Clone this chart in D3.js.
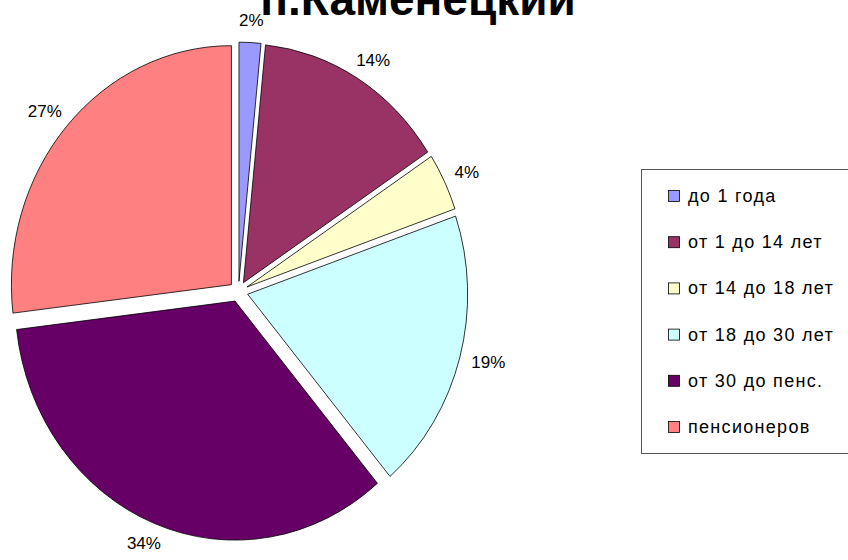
<!DOCTYPE html>
<html><head><meta charset="utf-8">
<script src="https://cdn.jsdelivr.net/npm/d3@7"></script>
<style>body{margin:0;background:#fff}svg{display:block}text{font-family:"Liberation Sans",Arial,sans-serif}</style>
</head><body>
<svg id="c" width="848" height="560"></svg>
<script>
const title = "п.Каменецкий";
const categories = ["до 1 года","от 1 до 14 лет","от 14 до 18 лет","от 18 до 30 лет","от 30 до пенс.","пенсионеров"];
const values = [1.6, 14.2, 3.9, 19.1, 34.3, 26.9];
const colors = ["#9999FF","#993366","#FFFFCC","#CCFFFF","#660066","#FF8080"];

const svg = d3.select("#c");
const W = 848, H = 560;
svg.append("rect").attr("width", W).attr("height", H).attr("fill", "#fff");

const cx = 238.5, cy = 291.5, rx = 220, ry = 239, sy = ry / rx, explode = 9.5, labelR = 242;
const total = d3.sum(values);
const data = categories.map((c, i) => ({cat: c, value: values[i], color: colors[i]}));
const pie = d3.pie().sort(null).value(d => d.value).startAngle(0).endAngle(2 * Math.PI);
const arc = d3.arc().innerRadius(0).outerRadius(rx);
const arcs = pie(data);

const g = svg.append("g").attr("transform", `translate(${cx},${cy})`);
g.selectAll("path").data(arcs).join("path")
  .attr("transform", d => {
    const m = (d.startAngle + d.endAngle) / 2;
    return `translate(${Math.sin(m) * explode},${-Math.cos(m) * explode * sy}) scale(1,${sy})`;
  })
  .attr("d", arc)
  .attr("fill", d => d.data.color)
  .attr("stroke", "#000")
  .attr("stroke-width", 0.8)
  .attr("vector-effect", "non-scaling-stroke");

const fmt = d3.format(".0%");
const labels = g.selectAll("text.lbl").data(arcs).join("text")
  .attr("class", "lbl")
  .attr("font-size", 17)
  .attr("text-anchor", "middle")
  .attr("dominant-baseline", "central")
  .attr("fill", "#000")
  .text(d => fmt(d.data.value / total));
labels.each(function(d) {
  const m = (d.startAngle + d.endAngle) / 2;
  const hw = this.getComputedTextLength() / 2, hh = 8;
  const x = Math.sin(m) * (labelR + hw);
  const y = -Math.cos(m) * labelR * sy - Math.cos(m) * hh;
  d3.select(this).attr("x", x).attr("y", y);
});

svg.append("text").attr("x", 418).attr("y", 15)
  .attr("text-anchor", "middle").attr("font-size", 46).attr("font-weight", "bold")
  .attr("fill", "#000").text(title);

const lg = svg.append("g");
lg.append("rect").attr("x", 641.5).attr("y", 169.5).attr("width", 220).attr("height", 284)
  .attr("fill", "#fff").attr("stroke", "#555").attr("stroke-width", 1);
const ly = d3.scalePoint().domain(categories).range([196, 427]);
const items = lg.selectAll("g.item").data(data).join("g").attr("class", "item")
  .attr("transform", d => `translate(668,${ly(d.cat)})`);
items.append("rect").attr("x", 0.5).attr("y", -5.5).attr("width", 11).attr("height", 11)
  .attr("fill", d => d.color).attr("stroke", "#000").attr("stroke-width", 0.8);
items.append("text").attr("x", 20).attr("y", 0).attr("dominant-baseline", "central")
  .attr("font-size", 18).attr("letter-spacing", 1.3).attr("fill", "#000").text(d => d.cat);
</script>
</body></html>
